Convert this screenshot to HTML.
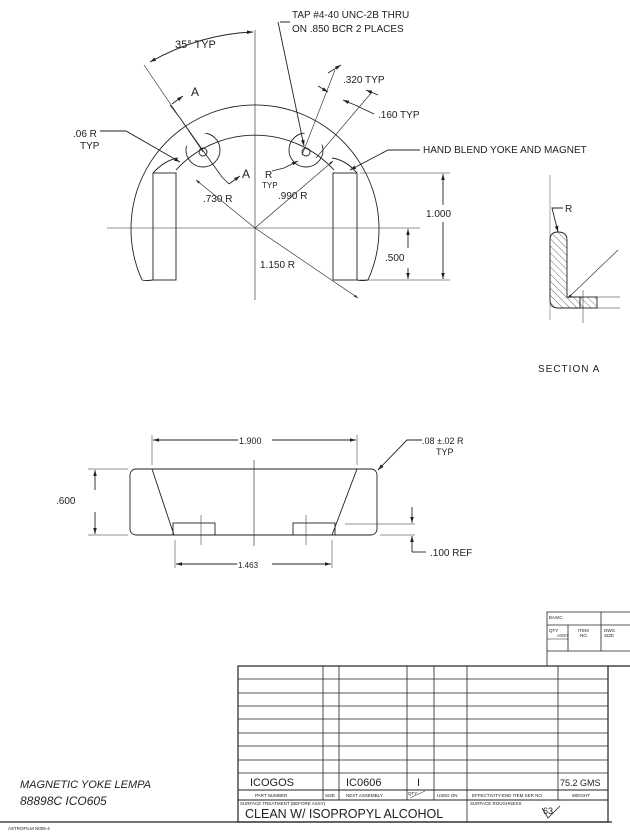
<!DOCTYPE html>
<html><head><meta charset="utf-8"><style>
html,body{margin:0;padding:0;background:#fff;}
svg{display:block;}
text{font-family:"Liberation Sans",sans-serif;fill:#222;}
</style></head><body>
<svg width="630" height="832" viewBox="0 0 630 832" xmlns="http://www.w3.org/2000/svg">
<defs>
<marker id="ar" viewBox="0 0 10 6" refX="10" refY="3" markerWidth="8" markerHeight="4" orient="auto-start-reverse"><path d="M0,0L10,3L0,6z" fill="#222"/></marker>
<pattern id="hatch" width="5" height="5" patternUnits="userSpaceOnUse" patternTransform="rotate(-45)"><line x1="0" y1="0" x2="0" y2="5" stroke="#333" stroke-width="0.7"/></pattern>
<clipPath id="inner"><circle cx="255" cy="228" r="107"/></clipPath>
</defs>
<g stroke="#222" stroke-width="0.9" fill="none">
<line x1="255" y1="30" x2="255" y2="300" stroke-width="0.6"/>
<line x1="107" y1="228" x2="420" y2="228" stroke-width="0.6"/>
<path d="M142,280 A124,124 0 1 1 368,280"/>
<path d="M142,280 Q146,281 153,280"/>
<path d="M357,280 Q362,281 368,280"/>
<path d="M176,170 A107,107 0 0 1 334,170"/>
<path d="M153,173 Q165,160 178,158"/>
<path d="M357,173 Q346,160 332,158"/>
<rect x="153" y="173" width="23" height="107"/>
<rect x="333" y="173" width="24" height="107"/>
<g clip-path="url(#inner)">
<circle cx="203" cy="150" r="17"/>
<circle cx="306" cy="150" r="17"/>
</g>
<circle cx="203" cy="152" r="4"/>
<circle cx="306" cy="152" r="4"/>
<line x1="255" y1="228" x2="196" y2="180" stroke-width="0.6" marker-end="url(#ar)"/>
<line x1="255" y1="228" x2="333" y2="161" stroke-width="0.6" marker-end="url(#ar)"/>
<line x1="255" y1="228" x2="358" y2="298" stroke-width="0.6" marker-end="url(#ar)"/>
<path d="M170,105 L180,118 L204,152 L222,177 L229,184" stroke-width="0.8"/>
<line x1="172" y1="104" x2="183" y2="96" marker-end="url(#ar)"/>
<line x1="229" y1="184" x2="240" y2="176" marker-end="url(#ar)"/>
<line x1="144" y1="65" x2="203" y2="152" stroke-width="0.6"/>
<path d="M150,62 Q200,34 253,32" marker-start="url(#ar)" marker-end="url(#ar)"/>
<path d="M280,22 L290,22 M278,22 L304,146" marker-end="url(#ar)"/>
<line x1="302" y1="155" x2="335" y2="70" stroke-width="0.6"/>
<line x1="316" y1="158" x2="372" y2="92" stroke-width="0.6"/>
<line x1="328" y1="73" x2="341" y2="65" marker-end="url(#ar)"/>
<line x1="318" y1="86" x2="328" y2="92" marker-end="url(#ar)"/>
<line x1="355" y1="105" x2="343" y2="100" marker-end="url(#ar)"/>
<line x1="378" y1="95" x2="366" y2="90" marker-end="url(#ar)"/>
<line x1="355" y1="105" x2="374" y2="114"/>
<path d="M100,131 L126,131 L180,162" marker-end="url(#ar)"/>
<path d="M272,171 L284,168 L298,161" marker-end="url(#ar)"/>
<path d="M420,150 L388,150 L350,170" marker-end="url(#ar)"/>
<line x1="360" y1="173" x2="450" y2="173" stroke-width="0.6"/>
<line x1="360" y1="280" x2="450" y2="280" stroke-width="0.6"/>
<line x1="443" y1="205" x2="443" y2="174" marker-end="url(#ar)"/>
<line x1="443" y1="222" x2="443" y2="279" marker-end="url(#ar)"/>
<line x1="408" y1="248" x2="408" y2="229" marker-end="url(#ar)"/>
<line x1="408" y1="268" x2="408" y2="279" marker-end="url(#ar)"/>
<line x1="550" y1="175" x2="550" y2="320" stroke-width="0.4"/>
<path d="M550,240 Q550,232 558,232 Q567,232 567,240 L567,297 L580,297 L580,308 L558,308 Q550,308 550,300 Z" fill="url(#hatch)"/>
<rect x="580" y="297" width="17" height="11" fill="url(#hatch)"/>
<line x1="597" y1="297" x2="620" y2="297" stroke-width="0.5"/>
<line x1="597" y1="308" x2="620" y2="308" stroke-width="0.5"/>
<line x1="583" y1="290" x2="583" y2="323" stroke-width="0.5"/>
<path d="M563,208 L552,208 L558,232" marker-end="url(#ar)"/>
<line x1="618" y1="250" x2="568" y2="298" stroke-width="0.6" marker-end="url(#ar)"/>
<rect x="130" y="469" width="247" height="66" rx="6"/>
<line x1="152" y1="469" x2="174" y2="535"/>
<line x1="357" y1="469" x2="332" y2="535"/>
<rect x="173" y="523" width="42" height="12"/>
<rect x="293" y="523" width="42" height="12"/>
<line x1="254" y1="460" x2="254" y2="546" stroke-width="0.6"/>
<line x1="201" y1="515" x2="201" y2="545" stroke-width="0.5"/>
<line x1="306" y1="515" x2="306" y2="545" stroke-width="0.5"/>
<line x1="152" y1="435" x2="152" y2="465" stroke-width="0.5"/>
<line x1="357" y1="435" x2="357" y2="465" stroke-width="0.5"/>
<line x1="238" y1="440" x2="153" y2="440" marker-end="url(#ar)"/>
<line x1="272" y1="440" x2="356" y2="440" marker-end="url(#ar)"/>
<line x1="175" y1="540" x2="175" y2="568" stroke-width="0.5"/>
<line x1="332" y1="540" x2="332" y2="568" stroke-width="0.5"/>
<line x1="237" y1="564" x2="176" y2="564" marker-end="url(#ar)"/>
<line x1="272" y1="564" x2="331" y2="564" marker-end="url(#ar)"/>
<line x1="88" y1="469" x2="128" y2="469" stroke-width="0.5"/>
<line x1="88" y1="535" x2="128" y2="535" stroke-width="0.5"/>
<line x1="95" y1="490" x2="95" y2="470" marker-end="url(#ar)"/>
<line x1="95" y1="512" x2="95" y2="534" marker-end="url(#ar)"/>
<line x1="345" y1="524" x2="415" y2="524" stroke-width="0.5"/>
<line x1="380" y1="535" x2="415" y2="535" stroke-width="0.5"/>
<line x1="412" y1="507" x2="412" y2="523" marker-end="url(#ar)"/>
<path d="M412,552 L412,536" marker-end="url(#ar)"/>
<line x1="412" y1="552" x2="426" y2="552"/>
<path d="M422,440 L407,440 L378,470" marker-end="url(#ar)"/>
<path d="M547,666 L547,612 L630,612 M547,625 L630,625 M547,651 L630,651 M568,625 L568,651 M601,612 L601,651" stroke-width="0.8"/>
<line x1="547" y1="639" x2="568" y2="639" stroke-width="0.5"/>
<rect x="238" y="666" width="370" height="156" stroke-width="1.2"/>
<line x1="608" y1="666" x2="630" y2="666" stroke-width="1.2"/>
<path d="M238,679H608M238,693H608M238,706H608M238,719H608M238,733H608M238,746H608M238,760H608M238,773H608" stroke-width="0.7"/>
<path d="M238,790H608M238,800H608" stroke-width="0.9"/>
<path d="M323,666V800M339,666V800M407,666V800M434,666V800M467,666V822M558,666V800" stroke-width="0.8"/>
<line x1="410" y1="798" x2="425" y2="791" stroke-width="0.5"/>
<line x1="0" y1="822" x2="612" y2="822" stroke-width="1.2"/>
<path d="M542,808 L548,818 L560,806" stroke-width="0.8"/>
</g>
<g font-size="10">
<text x="292" y="18">TAP #4-40 UNC-2B THRU</text>
<text x="292" y="32">ON .850 BCR 2 PLACES</text>
<text x="175" y="48" font-size="11">35° TYP</text>
<text x="343" y="83">.320 TYP</text>
<text x="378" y="118">.160 TYP</text>
<text x="423" y="153">HAND BLEND YOKE AND MAGNET</text>
<text x="73" y="137">.06 R</text>
<text x="80" y="149">TYP</text>
<text x="191" y="96" font-size="12">A</text>
<text x="242" y="178" font-size="12">A</text>
<text x="265" y="178">R</text>
<text x="262" y="188" font-size="8">TYP</text>
<text x="203" y="202">.730 R</text>
<text x="278" y="199">.990 R</text>
<text x="260" y="268">1.150 R</text>
<text x="426" y="217">1.000</text>
<text x="385" y="261">.500</text>
<text x="565" y="212">R</text>
<text x="538" y="372" letter-spacing="1">SECTION A</text>
<text x="239" y="444" font-size="9">1.900</text>
<text x="238" y="568" font-size="8">1.463</text>
<text x="56" y="504">.600</text>
<text x="430" y="556">.100 REF</text>
<text x="422" y="444" font-size="9">.08 ±.02 R</text>
<text x="436" y="455" font-size="9">TYP</text>
<text x="250" y="786" font-size="11">ICOGOS</text>
<text x="346" y="786" font-size="11">IC0606</text>
<text x="417" y="786" font-size="11">I</text>
<text x="560" y="786" font-size="9">75.2 GMS</text>
<g font-size="4.5"><text x="255" y="797">PART NUMBER</text><text x="325" y="797">SIZE</text><text x="346" y="797">NEXT ASSEMBLY</text><text x="408" y="795">QTY</text><text x="437" y="797">USED ON</text><text x="472" y="797">EFFECTIVITY-END ITEM SER NO</text><text x="572" y="797">WEIGHT</text><text x="240" y="805">SURFACE TREATMENT (BEFORE ASSY)</text><text x="470" y="805">SURFACE ROUGHNESS</text>
<text x="549" y="619">BASIC</text><text x="549" y="632">QTY</text><text x="557" y="637">ASSY</text><text x="578" y="632">ITEM</text><text x="580" y="637">NO.</text><text x="604" y="632">DWG</text><text x="604" y="637">SIZE</text><text x="8" y="830">ASTROFILM N005-4</text></g>
<text x="245" y="818" font-size="12.5">CLEAN W/ ISOPROPYL ALCOHOL</text>
<text x="543" y="814" font-size="9">63</text>
<text x="20" y="788" font-size="11" font-style="italic">MAGNETIC YOKE LEMPA</text>
<text x="20" y="805" font-size="12" font-style="italic">88898C ICO605</text>
</g>
</svg>
</body></html>
